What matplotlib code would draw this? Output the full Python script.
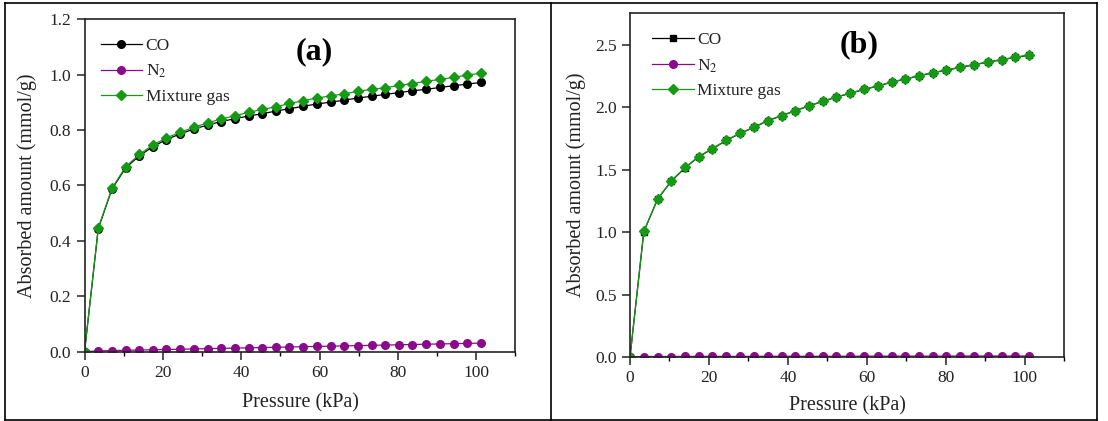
import matplotlib
matplotlib.use("Agg")
import matplotlib.pyplot as plt
from matplotlib.lines import Line2D
from matplotlib.ticker import MultipleLocator, FormatStrFormatter

plt.rcParams["font.family"] = ["Liberation Serif", "DejaVu Serif"]
plt.rcParams["mathtext.fontset"] = "stix"

pressure = [0, 3.5, 7.0, 10.5, 14.0, 17.4, 20.9, 24.4, 27.9, 31.4, 34.9, 38.4,
            41.9, 45.4, 48.9, 52.3, 55.8, 59.3, 62.8, 66.3, 69.8, 73.3, 76.8,
            80.2, 83.7, 87.2, 90.7, 94.2, 97.7, 101.2]

# panel (a)
co_a = [0, 0.444, 0.587, 0.664, 0.707, 0.740, 0.766, 0.786, 0.804, 0.818, 0.831,
        0.841, 0.851, 0.859, 0.869, 0.877, 0.886, 0.894, 0.901, 0.908, 0.916,
        0.922, 0.929, 0.935, 0.942, 0.947, 0.954, 0.960, 0.966, 0.972]
n2_a = [0, 0.003, 0.004, 0.005, 0.006, 0.007, 0.008, 0.009, 0.010, 0.011, 0.012,
        0.013, 0.014, 0.015, 0.016, 0.017, 0.018, 0.019, 0.020, 0.021, 0.022,
        0.023, 0.024, 0.025, 0.026, 0.027, 0.028, 0.029, 0.030, 0.031]
mix_a = [0, 0.446, 0.590, 0.668, 0.712, 0.746, 0.772, 0.792, 0.810, 0.826, 0.840,
         0.852, 0.864, 0.875, 0.884, 0.896, 0.906, 0.916, 0.923, 0.931, 0.940,
         0.947, 0.953, 0.961, 0.968, 0.976, 0.983, 0.990, 0.999, 1.005]

# panel (b)
co_b = [0, 1.003, 1.264, 1.408, 1.515, 1.602, 1.666, 1.733, 1.789, 1.837, 1.890,
        1.930, 1.970, 2.010, 2.045, 2.080, 2.109, 2.141, 2.167, 2.199, 2.223,
        2.250, 2.274, 2.295, 2.317, 2.338, 2.359, 2.378, 2.397, 2.415]
n2_b = [0, 0.004, 0.004, 0.004, 0.005, 0.005, 0.005, 0.005, 0.005, 0.005, 0.006,
        0.006, 0.006, 0.006, 0.006, 0.006, 0.006, 0.007, 0.007, 0.007, 0.007,
        0.007, 0.007, 0.007, 0.008, 0.008, 0.008, 0.008, 0.008, 0.008]
mix_b = [0, 1.005, 1.266, 1.410, 1.517, 1.604, 1.668, 1.735, 1.791, 1.839, 1.892,
         1.932, 1.972, 2.012, 2.047, 2.082, 2.111, 2.143, 2.169, 2.201, 2.225,
         2.252, 2.276, 2.297, 2.319, 2.340, 2.361, 2.380, 2.399, 2.417]

GREEN = "#169a16"
PURPLE = "#8b0a8b"
TXT = "#222222"

fig = plt.figure(figsize=(11.08, 4.21), dpi=100)

# outer table frame
for xs, ys in [([5, 1097], [3, 3]), ([5, 1097], [420, 420]),
               ([5, 5], [3, 420]), ([1097, 1097], [3, 420]),
               ([551, 551], [3, 420])]:
    fig.add_artist(Line2D([x / 1108 for x in xs], [1 - y / 421 for y in ys],
                          color="black", lw=1.2))


def style_axes(ax, ymax, ystep, label, xlab_y, ylab_x, title_xy, leg_xy):
    ax.set_xlim(0, 110)
    ax.set_ylim(0, ymax)
    ax.xaxis.set_major_locator(MultipleLocator(20))
    ax.xaxis.set_minor_locator(MultipleLocator(10))
    ax.yaxis.set_major_locator(MultipleLocator(ystep))
    ax.yaxis.set_major_formatter(FormatStrFormatter("%.1f"))
    ax.set_xticks([0, 20, 40, 60, 80, 100])
    ax.tick_params(axis="both", which="major", direction="out", length=6,
                   width=1.1, labelsize=12.5, colors=TXT)
    ax.tick_params(axis="x", which="minor", direction="out", length=3, width=1.0)
    ax.tick_params(axis="y", which="minor", left=False)
    for s in ax.spines.values():
        s.set_linewidth(1.2)
        s.set_color("#222222")
    ax.set_xlabel("Pressure (kPa)", fontsize=14.5, color=TXT)
    ax.set_ylabel("Absorbed amount (mmol/g)", fontsize=14.5, color=TXT)
    ax.xaxis.set_label_coords(0.5, xlab_y)
    ax.yaxis.set_label_coords(ylab_x, 0.5)
    ax.text(title_xy[0], title_xy[1], label, transform=ax.transAxes,
            fontsize=23, fontweight="bold", ha="center", va="center", color="black")
    leg = ax.legend(loc="upper left", bbox_to_anchor=leg_xy, frameon=False,
                    fontsize=12.5, handlelength=2.4, handletextpad=0.2,
                    labelspacing=0.5, borderaxespad=0)
    for t in leg.get_texts():
        t.set_color(TXT)


# (a)
ax1 = fig.add_axes([0.0763, 0.1646, 0.3889, 0.7896])
ax1.plot(pressure, co_a, color="black", marker="o", ms=5.5, lw=0.9, label="CO")
ax1.plot(pressure, n2_a, color=PURPLE, marker="o", ms=5.5, lw=0.9, label="N$_2$")
ax1.plot(pressure, mix_a, color=GREEN, marker="D", ms=5.5, lw=0.9, label="Mixture gas")
style_axes(ax1, 1.2, 0.2, "(a)", -0.125, -0.110, (0.532, 0.902), (0.021, 0.965))

# (b)
ax2 = fig.add_axes([0.5686, 0.152, 0.3917, 0.8164])
ax2.plot(pressure, co_b, color="black", marker="s", ms=4.5, lw=0.9, label="CO")
ax2.plot(pressure, n2_b, color=PURPLE, marker="o", ms=5.5, lw=0.9, label="N$_2$")
ax2.plot(pressure, mix_b, color=GREEN, marker="D", ms=5.5, lw=0.9, label="Mixture gas")
style_axes(ax2, 2.75, 0.5, "(b)", -0.115, -0.101, (0.528, 0.908), (0.035, 0.965))

fig.savefig("out.png", dpi=100)
